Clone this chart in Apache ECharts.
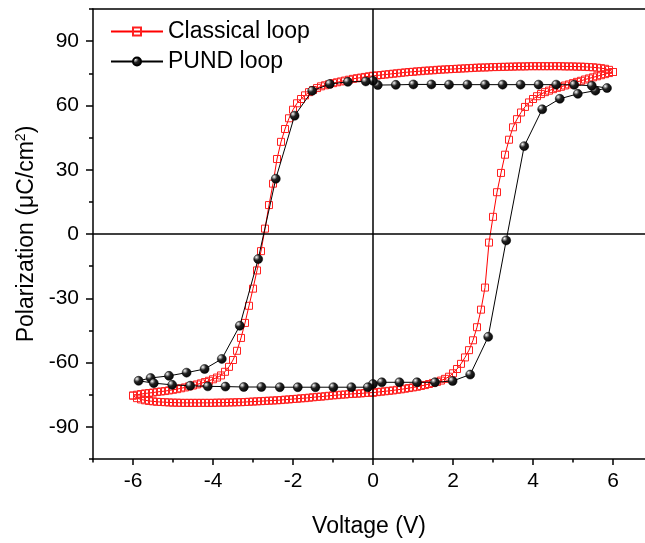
<!DOCTYPE html>
<html>
<head>
<meta charset="utf-8">
<script src="https://cdn.jsdelivr.net/npm/echarts@6/dist/echarts.min.js"></script>
<style>
html,body{margin:0;padding:0;background:#fff;}
#chart{width:645px;height:543px;}
</style>
</head>
<body>
<div id="chart"></div>
<script>
// Voltage magnitude grid of the classical loop sweep (V)
const vGrid = [0.0,0.1,0.2,0.3,0.4,0.5,0.6,0.7,0.8,0.9,1.0,1.1,1.2,1.3,1.4,1.5,1.6,1.7,1.8,1.9,2.0,2.1,2.2,2.3,2.4,2.5,2.6,2.7,2.8,2.9,3.0,3.1,3.2,3.3,3.4,3.5,3.6,3.7,3.8,3.9,4.0,4.1,4.2,4.3,4.4,4.5,4.6,4.7,4.8,4.9,5.0,5.1,5.2,5.3,5.4,5.5,5.6,5.7,5.8,5.9,6.0];
// Classical loop, rising branch at V = +vGrid (0 -> 6)
const classicalRise = [-74.0,-73.8,-73.6,-73.4,-73.2,-73.0,-72.7,-72.5,-72.2,-71.9,-71.6,-71.3,-70.9,-70.5,-70.0,-69.5,-69.0,-68.4,-67.6,-66.6,-65.0,-63.0,-60.6,-57.6,-54.2,-49.6,-43.5,-35.3,-25.0,-4.0,8.0,19.5,28.5,37.0,44.0,49.8,53.6,56.7,59.3,61.4,63.0,64.3,65.3,66.2,66.9,67.6,68.2,68.7,69.3,69.8,70.4,71.0,71.5,72.1,72.6,73.1,73.6,74.1,74.6,75.1,75.6];
// Classical loop, upper return branch at V = +vGrid (traversed 6 -> 0)
const classicalTop = [73.8,74.0,74.2,74.4,74.6,74.8,75.0,75.2,75.4,75.6,75.7,75.9,76.0,76.2,76.3,76.4,76.6,76.7,76.8,76.9,77.0,77.1,77.2,77.3,77.4,77.5,77.6,77.7,77.7,77.8,77.9,77.9,78.0,78.0,78.1,78.1,78.2,78.2,78.2,78.3,78.3,78.3,78.3,78.3,78.3,78.3,78.3,78.3,78.2,78.2,78.2,78.1,78.1,78.0,77.9,77.8,77.6,77.4,77.1,76.6,75.6];
// Classical loop, falling branch at V = -vGrid (0 -> -6)
const classicalFall = [73.8,73.6,73.3,73.0,72.7,72.4,72.0,71.6,71.2,70.8,70.4,69.9,69.4,68.9,68.1,67.2,66.2,64.7,63.0,61.0,58.0,54.0,49.0,43.0,35.0,23.5,13.5,2.5,-8.0,-17.0,-25.5,-33.5,-41.5,-48.5,-54.5,-58.8,-62.0,-64.3,-66.0,-67.0,-67.8,-68.5,-69.1,-69.7,-70.2,-70.7,-71.1,-71.6,-72.0,-72.4,-72.7,-73.0,-73.3,-73.5,-73.7,-74.0,-74.2,-74.4,-74.7,-75.0,-75.4];
// Classical loop, lower return branch at V = -vGrid (traversed -6 -> 0)
const classicalBottom = [-74.0,-74.1,-74.2,-74.4,-74.5,-74.6,-74.7,-74.9,-75.0,-75.2,-75.3,-75.5,-75.7,-75.9,-76.0,-76.2,-76.4,-76.6,-76.7,-76.9,-77.0,-77.2,-77.3,-77.5,-77.6,-77.7,-77.8,-77.9,-78.0,-78.1,-78.2,-78.3,-78.4,-78.5,-78.5,-78.6,-78.6,-78.7,-78.7,-78.7,-78.8,-78.8,-78.8,-78.8,-78.8,-78.8,-78.8,-78.8,-78.8,-78.7,-78.7,-78.6,-78.5,-78.4,-78.3,-78.1,-77.9,-77.6,-77.2,-76.6,-75.4];

// PUND loop (in measurement order)
const pundV = [0.0,0.22,0.66,1.1,1.55,1.99,2.43,2.88,3.33,3.78,4.23,4.67,5.12,5.56,5.85,5.47,5.03,4.58,4.14,3.69,3.24,2.8,2.36,1.9,1.46,1.01,0.57,0.12,0.0,-0.18,-0.63,-1.08,-1.52,-1.96,-2.43,-2.87,-3.33,-3.78,-4.21,-4.66,-5.1,-5.56,-5.86,-5.48,-5.02,-4.57,-4.13,-3.69,-3.23,-2.79,-2.33,-1.88,-1.44,-0.99,-0.54,-0.13];
const pundP = [-70.0,-69.2,-69.2,-69.2,-69.2,-68.6,-65.6,-48.0,-3.0,41.0,58.2,63.1,65.4,66.9,68.1,69.2,69.6,69.7,69.7,69.7,69.7,69.7,69.7,69.7,69.8,69.8,69.6,69.5,71.5,71.2,71.0,70.0,66.8,55.2,25.8,-11.7,-42.8,-58.3,-63.0,-64.7,-66.2,-67.2,-68.5,-69.6,-70.4,-70.8,-71.1,-71.2,-71.4,-71.4,-71.5,-71.5,-71.5,-71.5,-71.5,-71.5];

const xMajorTicks = [-6,-4,-2,0,2,4,6];
const xMinorTicks = [-7,-5,-3,-1,1,3,5];
const yMajorTicks = [-90,-60,-30,0,30,60,90];
const yMinorTicks = [-105,-75,-45,-15,15,45,75,105];

const seriesNames = ['Classical loop','PUND loop'];

// build loop point lists
const classicalData = [];
for (let i = 0; i < vGrid.length; i++) classicalData.push([vGrid[i], classicalRise[i]]);
for (let i = vGrid.length - 1; i >= 0; i--) classicalData.push([vGrid[i], classicalTop[i]]);
for (let i = 0; i < vGrid.length; i++) classicalData.push([-vGrid[i], classicalFall[i]]);
for (let i = vGrid.length - 1; i >= 0; i--) classicalData.push([-vGrid[i], classicalBottom[i]]);
const pundData = pundV.map((v, i) => [v, pundP[i]]);

const FONT = 'Liberation Sans, Arial, sans-serif';
const chart = echarts.init(document.getElementById('chart'), null, {renderer: 'canvas'});
chart.setOption({
  animation: false,
  backgroundColor: '#fff',
  grid: {left: 93, right: 0, top: 9, bottom: 84, containLabel: false},
  legend: {
    orient: 'vertical', left: 105, top: 15, itemWidth: 52, itemHeight: 10, itemGap: 7,
    textStyle: {fontFamily: FONT, fontSize: 23, color: '#000'},
    data: seriesNames
  },
  xAxis: [
    {
      type: 'value', min: -7, max: 6.8, position: 'bottom',
      name: 'Voltage (V)', nameLocation: 'middle', nameGap: 56,
      nameTextStyle: {fontFamily: FONT, fontSize: 23, color: '#000'},
      axisLine: {show: true, onZero: false, lineStyle: {color: '#000', width: 1.5}},
      axisTick: {show: true, inside: false, length: 6, customValues: xMajorTicks, lineStyle: {color: '#000', width: 1.5}},
      axisLabel: {show: true, margin: 12, customValues: xMajorTicks, fontFamily: FONT, fontSize: 21, color: '#000'},
      splitLine: {show: false}
    },
    {
      type: 'value', min: -7, max: 6.8, position: 'bottom',
      axisLine: {show: false, onZero: false},
      axisTick: {show: true, length: 3.5, customValues: xMinorTicks, lineStyle: {color: '#000', width: 1.5}},
      axisLabel: {show: false}, splitLine: {show: false}
    },
    {
      type: 'value', min: -7, max: 6.8, position: 'top',
      axisLine: {show: true, onZero: false, lineStyle: {color: '#000', width: 1.5}},
      axisTick: {show: false}, axisLabel: {show: false}, splitLine: {show: false}
    }
  ],
  yAxis: [
    {
      type: 'value', min: -105, max: 105, position: 'left',
      name: '{a|Polarization (μC/cm}{b|2}{a|)}', nameLocation: 'middle', nameGap: 49, nameRotate: 90,
      nameTextStyle: {fontFamily: FONT, fontSize: 23, color: '#000',
        rich: {a: {fontFamily: FONT, fontSize: 23, color: '#000'}, b: {fontFamily: FONT, fontSize: 14, color: '#000', verticalAlign: 'top', padding: [0, 0, 10, 0]}}},
      axisLine: {show: true, onZero: false, lineStyle: {color: '#000', width: 1.5}},
      axisTick: {show: true, length: 7, customValues: yMajorTicks, lineStyle: {color: '#000', width: 1.5}},
      axisLabel: {show: true, margin: 14, customValues: yMajorTicks, fontFamily: FONT, fontSize: 21, color: '#000'},
      splitLine: {show: false}
    },
    {
      type: 'value', min: -105, max: 105, position: 'left',
      axisLine: {show: false, onZero: false},
      axisTick: {show: true, length: 4, customValues: yMinorTicks, lineStyle: {color: '#000', width: 1.5}},
      axisLabel: {show: false}, splitLine: {show: false}
    }
  ],
  series: [
    {
      name: seriesNames[0], type: 'line', xAxisIndex: 0, yAxisIndex: 0,
      data: classicalData, symbol: 'rect', symbolSize: 7, showAllSymbol: true,
      lineStyle: {color: '#ff0000', width: 1},
      itemStyle: {color: 'rgba(255,255,255,0)', borderColor: '#ff2020', borderWidth: 1},
      z: 2,
      markLine: {
        silent: true, symbol: ['none', 'none'], label: {show: false},
        lineStyle: {color: '#000', width: 1.5, type: 'solid'},
        data: [{xAxis: 0}, {yAxis: 0}]
      }
    },
    {
      name: seriesNames[1], type: 'line', xAxisIndex: 0, yAxisIndex: 0,
      data: pundData, symbol: 'circle', symbolSize: 9, showAllSymbol: true,
      lineStyle: {color: '#000', width: 1},
      itemStyle: {
        color: {type: 'radial', x: 0.32, y: 0.3, r: 0.8,
          colorStops: [{offset: 0, color: '#ffffff'}, {offset: 0.15, color: '#aaaaaa'}, {offset: 0.4, color: '#222222'}, {offset: 1, color: '#000000'}]},
        borderColor: '#000', borderWidth: 0.5
      },
      z: 3
    }
  ]
});
</script>
</body>
</html>
